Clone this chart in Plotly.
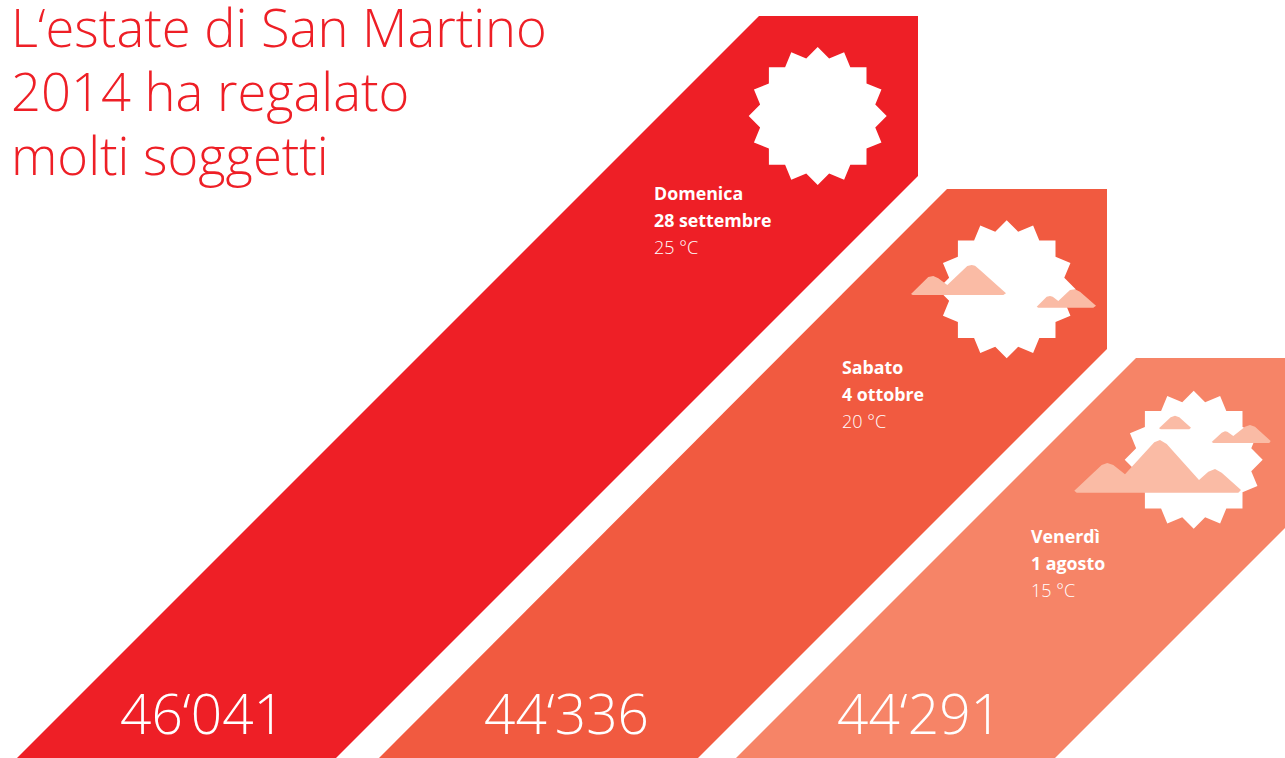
import plotly.graph_objects as go
import numpy as np

titolo = ["L‘estate di San Martino", "2014 ha regalato", "molti soggetti"]
giorni = ["Domenica", "Sabato", "Venerdì"]
date = ["28 settembre", "4 ottobre", "1 agosto"]
temperature = [25, 20, 15]
visitatori = ["46‘041", "44‘336", "44‘291"]

colori = ["#EE1F26", "#F15A40", "#F68467"]
colore_nuvola = "#FABBA5"
font_nome = "Open Sans"

# the picture is a diagram, so the axes simply run in page pixels
fasce_x = [
    [17, 759, 918, 918, 336],
    [379, 947, 1107, 1107, 698],
    [736, 1136, 1285, 1285, 1055],
]
fasce_y = [
    [758, 16, 16, 176, 758],
    [758, 189, 189, 349, 758],
    [758, 358, 358, 528, 758],
]
soli_x = [817.7, 1006.7, 1193.7]
soli_y = [116, 289.3, 459.7]
testo_x = [652, 840, 1029]
testo_y = [193, 367, 536]
numeri_x = [202, 566, 919.5]

nuvole = [
    [(911, 294), (912.7, 295), (1003.3, 295), (1006, 293.3), (980, 270), (975, 265.7),
     (971.7, 265), (967.3, 266), (947.3, 285), (938.3, 278.3), (933.3, 276), (928.3, 277)],
    [(1036.7, 306.7), (1038.3, 307.7), (1093.3, 307.7), (1096, 305.7), (1080, 291.7), (1075, 289.3),
     (1070, 290), (1058.3, 301), (1052.7, 296.7), (1050, 296), (1046.7, 296.7)],
    [(1159, 428.3), (1160.7, 429.3), (1189.3, 429.3), (1191, 427.7), (1179.3, 417.3), (1175, 415.7),
     (1170.7, 417.3)],
    [(1211.7, 442), (1213.3, 443), (1269.3, 443), (1270.7, 441), (1255, 426.7), (1250, 425),
     (1245, 426.7), (1233.3, 436), (1227.3, 431.7), (1225, 431.3), (1221.7, 432.7)],
    [(1074.3, 490.7), (1076.7, 492.7), (1238.3, 492.7), (1241, 490), (1221.7, 472.7), (1215, 469),
     (1208.3, 471.7), (1199, 480), (1166.7, 444), (1160, 440), (1154.3, 442.3), (1125, 474.3),
     (1113.3, 465), (1107.3, 463), (1101.7, 465)],
]


def poligono(fig, xs, ys, colore):
    fig.add_trace(go.Scatter(
        x=xs, y=ys, mode="lines", fill="toself", fillcolor=colore,
        line=dict(width=0), hoverinfo="skip", showlegend=False,
    ))


def testo(fig, x, y, s, size, colore, weight=400, anchor="left"):
    fig.add_annotation(
        x=x, y=y, text=s, showarrow=False, xanchor=anchor, yanchor="middle",
        font=dict(family=font_nome, size=size, color=colore, weight=weight),
    )


fig = go.Figure()

for i in range(3):
    poligono(fig, fasce_x[i], fasce_y[i], colori[i])

    # 16 point sun icon
    ang = np.radians(np.arange(32) * 11.25)
    raggi = np.where(np.arange(32) % 2 == 0, 69, 58.7)
    poligono(fig, soli_x[i] + raggi * np.sin(ang), soli_y[i] - raggi * np.cos(ang), "white")

for n in nuvole:
    poligono(fig, [p[0] for p in n], [p[1] for p in n], colore_nuvola)

for i, riga in enumerate(titolo):
    testo(fig, 8.5, 26 + 64 * i, riga, 52.5, colori[0], weight=300)

for i in range(3):
    testo(fig, testo_x[i], testo_y[i], giorni[i], 17.8, "white", weight=700)
    testo(fig, testo_x[i], testo_y[i] + 27, date[i], 17.8, "white", weight=700)
    testo(fig, testo_x[i], testo_y[i] + 54, f"{temperature[i]} °C", 18, "white", weight=300)
    testo(fig, numeri_x[i], 712.5, visitatori[i], 55, "white", weight=300, anchor="center")

fig.update_layout(
    width=1285,
    height=758,
    margin=dict(l=0, r=0, t=0, b=0),
    paper_bgcolor="white",
    plot_bgcolor="white",
    xaxis=dict(range=[0, 1285], visible=False, fixedrange=True),
    yaxis=dict(range=[758, 0], visible=False, fixedrange=True),
)

fig.write_html("out.html", config={"displayModeBar": False},
               post_script="document.body.style.margin='0';document.body.style.overflow='hidden';")
